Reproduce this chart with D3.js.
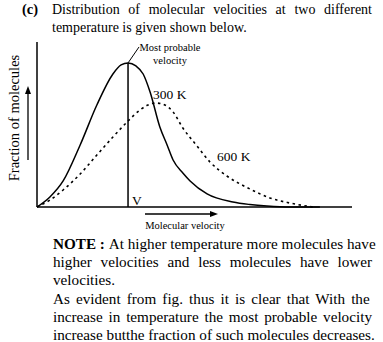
<!DOCTYPE html>
<html lang="en">
<head>
<meta charset="UTF-8">
<title>Distribution of molecular velocities</title>
<style>
    body { margin: 0; background: #fff; }
    svg { display: block; font-family: "Liberation Serif", "Times New Roman", serif; }
</style>
</head>
<body>
<script src="https://cdn.jsdelivr.net/npm/d3@7"></script>
<script>
    const W = 383, H = 342;

    // curve readings (arbitrary velocity units, fraction units)
    const vel300 = [0, 4.1, 8.3, 13.7, 19, 24.1, 26.7, 28.9, 31.4, 33.7, 35.9, 39, 41.3, 43.2, 46.3, 48.6, 54, 62.2, 67.6, 73, 80.3, 89.8];
    const frac300 = [0, 6.1, 15.8, 37.6, 61.8, 80.6, 86.1, 87.3, 85.5, 80.6, 69.7, 48.5, 37.6, 28.5, 20.6, 15.8, 7.9, 3, 1.5, 0.6, 0, 0];
    const vel600 = [0, 4.1, 8.3, 13.7, 19, 24.1, 28.9, 32.7, 35.2, 37.8, 40.6, 43.2, 46.3, 50.8, 54.9, 60.3, 67.6, 73.9, 80.3, 87.6];
    const frac600 = [0, 4.2, 10.3, 20, 31.5, 42.4, 52.1, 58.8, 61.8, 63, 61.8, 57.6, 47.9, 37, 27.3, 18.8, 10.9, 5.5, 2.4, 0];
    const vMostProbable = 28.9;
    const fMostProbable = 87.3;

    const headLines = ["Distribution of molecular velocities at two different", "temperature is given shown below."];
    const noteLines = [
        "At higher temperature more molecules have",
        "higher velocities and less molecules have lower",
        "velocities.",
        "As  evident from fig. thus it is clear that With the",
        "increase in temperature the most probable velocity",
        "increase butthe fraction of such molecules decreases."
    ];

    const svg = d3.select("body").append("svg")
        .attr("width", W)
        .attr("height", H);

    const x = d3.scaleLinear().domain([0, 100]).range([37, 352]);
    const y = d3.scaleLinear().domain([0, 100]).range([207, 42]);

    // justify a text element to a target width using word spacing (only stretch)
    function justify(t, width) {
        const natural = t.node().getComputedTextLength();
        const str = t.text();
        const gaps = (str.match(/ /g) || []).length;
        if (gaps > 0 && natural < width) t.attr("word-spacing", (width - natural) / gaps);
    }

    // header
    svg.append("text").attr("x", 22).attr("y", 14)
        .attr("font-size", 14.5).attr("font-weight", "bold").text("(c)");
    headLines.forEach((s, i) => {
        const t = svg.append("text").attr("x", 52).attr("y", 14 + i * 18)
            .attr("font-size", 14).text(s);
        if (i === 0) justify(t, 320);
    });

    // axes
    svg.append("line")
        .attr("x1", x(0)).attr("x2", x(0)).attr("y1", y(0)).attr("y2", y(100))
        .attr("stroke", "#000").attr("stroke-width", 1.5);
    svg.append("line")
        .attr("x1", x(0)).attr("x2", x(100)).attr("y1", y(0)).attr("y2", y(0))
        .attr("stroke", "#000").attr("stroke-width", 1.5);

    const line = d3.line().x(d => x(d[0])).y(d => y(d[1])).curve(d3.curveMonotoneX);

    svg.append("path")
        .datum(d3.zip(vel600, frac600))
        .attr("d", line)
        .attr("fill", "none").attr("stroke", "#000")
        .attr("stroke-width", 1.6).attr("stroke-dasharray", "2.5,3.5");

    svg.append("path")
        .datum(d3.zip(vel300, frac300))
        .attr("d", line)
        .attr("fill", "none").attr("stroke", "#000").attr("stroke-width", 1.5);

    // most probable velocity marker
    svg.append("line")
        .attr("x1", x(vMostProbable)).attr("x2", x(vMostProbable))
        .attr("y1", y(0)).attr("y2", y(fMostProbable))
        .attr("stroke", "#000").attr("stroke-width", 1.5);
    svg.append("line")
        .attr("x1", x(vMostProbable)).attr("y1", y(fMostProbable))
        .attr("x2", x(vMostProbable) + 11).attr("y2", y(fMostProbable) - 16)
        .attr("stroke", "#000").attr("stroke-width", 1);

    svg.append("text").attr("x", 170).attr("y", 51).attr("text-anchor", "middle")
        .attr("font-size", 10.5).text("Most probable");
    svg.append("text").attr("x", 170).attr("y", 64).attr("text-anchor", "middle")
        .attr("font-size", 10.5).text("velocity");

    svg.append("text").attr("x", 153).attr("y", 99).attr("font-size", 13.5).text("300 K");
    svg.append("text").attr("x", 217).attr("y", 161).attr("font-size", 13.5).text("600 K");
    svg.append("text").attr("x", 132).attr("y", 205).attr("font-size", 13.5).text("V");

    // axis titles with arrows
    svg.append("text")
        .attr("transform", "translate(19,118) rotate(-90)")
        .attr("text-anchor", "middle").attr("font-size", 14.5)
        .text("Fraction of molecules");
    svg.append("line").attr("x1", 28).attr("x2", 28).attr("y1", 160).attr("y2", 92)
        .attr("stroke", "#000").attr("stroke-width", 1.3);
    svg.append("path").attr("d", "M28,86 L25,94 L31,94 Z").attr("fill", "#000");

    svg.append("line").attr("x1", 145).attr("x2", 211).attr("y1", 214).attr("y2", 214)
        .attr("stroke", "#000").attr("stroke-width", 1.3);
    svg.append("path").attr("d", "M218,214 L210,211 L210,217 Z").attr("fill", "#000");
    svg.append("text").attr("x", 185).attr("y", 229).attr("text-anchor", "middle")
        .attr("font-size", 10.5).text("Molecular velocity");

    // note
    const justified = [true, true, false, true, true, false];
    noteLines.forEach((s, i) => {
        const yy = 249 + i * 18.2;
        if (i === 0) {
            const t = svg.append("text").attr("x", 53).attr("y", yy).attr("font-size", 15.2);
            t.append("tspan").attr("font-weight", "bold").text("NOTE : ");
            t.append("tspan").text(s);
            justify(t, 319);
        } else {
            const t = svg.append("text").attr("x", 53).attr("y", yy).attr("font-size", 15.2).text(s);
            if (justified[i]) justify(t, 319);
        }
    });
</script>
</body>
</html>
